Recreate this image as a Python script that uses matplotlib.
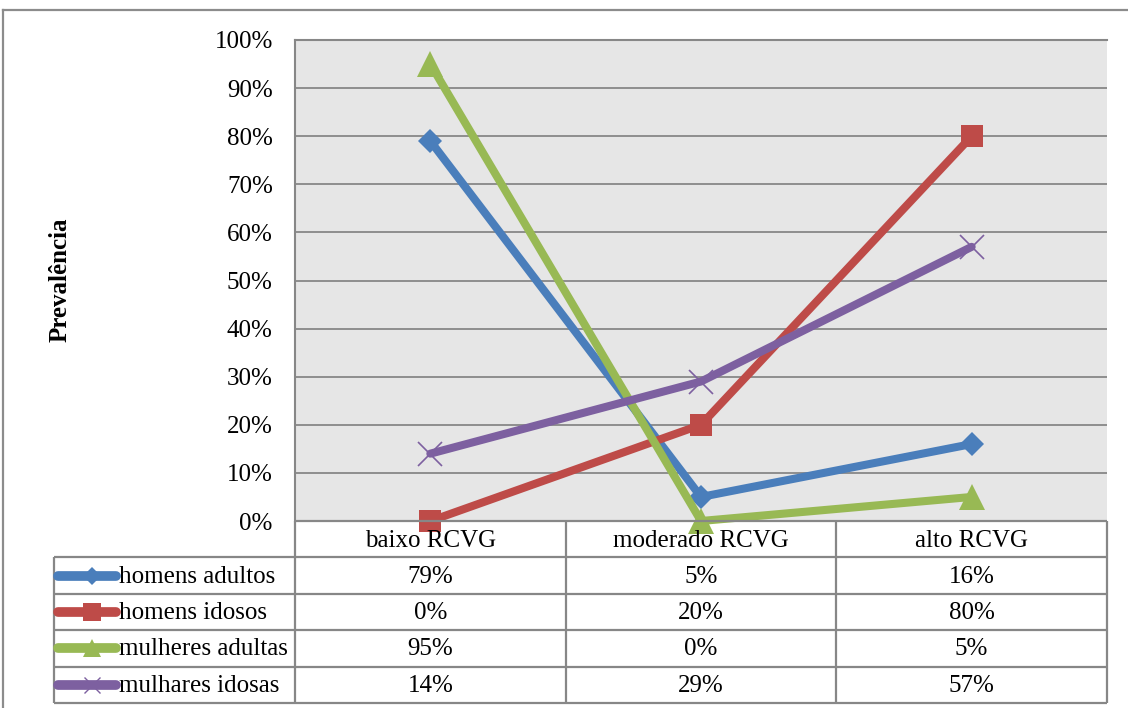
import matplotlib
matplotlib.use("Agg")
import matplotlib.pyplot as plt
from matplotlib.lines import Line2D

plt.rcParams['font.family'] = ['Liberation Serif', 'DejaVu Serif']

categories = ["baixo RCVG", "moderado RCVG", "alto RCVG"]
series_names = ["homens adultos", "homens idosos", "mulheres adultas", "mulhares idosas"]
homens_adultos = [79, 5, 16]
homens_idosos = [0, 20, 80]
mulheres_adultas = [95, 0, 5]
mulhares_idosas = [14, 29, 57]
yticks = [0, 10, 20, 30, 40, 50, 60, 70, 80, 90, 100]

values = [homens_adultos, homens_idosos, mulheres_adultas, mulhares_idosas]
colors = ["#4A7EBB", "#BE4B48", "#98B954", "#7D60A0"]
markers = ["D", "s", "^", "x"]
msizes = [12.5, 16, 18.5, 17]
mews = [0, 0, 0, 1.2]

W, H = 1128, 708
fig = plt.figure(figsize=(W / 100, H / 100), dpi=100)


def frac(x0, y0, x1, y1):
    return [x0 / W, 1 - y1 / H, (x1 - x0) / W, (y1 - y0) / H]


GRID = "#878787"
FS = 18
LW = 5.8

# plot area
px0, px1, py0, py1 = 295, 1107, 40, 521
ax = fig.add_axes(frac(px0, py0, px1, py1))
ax.set_facecolor("#E6E6E6")
ax.set_xlim(-0.5, 2.5)
ax.set_ylim(0, 100)
ax.set_yticks(yticks)
ax.set_yticklabels([f"{v}%" for v in yticks], fontsize=FS)
ax.set_xticks([])
ax.tick_params(axis="y", length=0, pad=16)
for s in ["right", "bottom"]:
    ax.spines[s].set_visible(False)
ax.spines["left"].set_color(GRID)
ax.spines["left"].set_linewidth(1.5)
ax.spines["top"].set_color(GRID)
ax.spines["top"].set_linewidth(1.5)
ax.yaxis.grid(True, color=GRID, linewidth=1.3)
ax.set_axisbelow(True)

xs = list(range(len(categories)))
for vals, c, m, ms, mew in zip(values, colors, markers, msizes, mews):
    ax.plot(xs, vals, color=c, linewidth=LW, solid_capstyle="round",
            marker=m, markersize=ms, markeredgewidth=mew,
            markerfacecolor=c, markeredgecolor=c, clip_on=False, zorder=3)

fig.text(60 / W, 1 - 280 / H, "Prevalência", rotation=90, fontsize=18,
         fontweight="bold", ha="center", va="center")

# data table below the plot
tx0, ty0, ty1 = 54, 521, 703
tab = fig.add_axes(frac(tx0, ty0, px1, ty1))
unit = (px1 - px0) / 3.0
left = -0.5 - (px0 - tx0) / unit
tab.set_xlim(left, 2.5)
tab.set_ylim(5, 0)
tab.axis("off")

row_edges = [0, 1, 2, 3, 4, 5]
lk = dict(color=GRID, linewidth=1.6, solid_capstyle="butt", clip_on=False)
# header row covers only the category columns
tab.plot([-0.5, 2.5], [0, 0], **lk)
for y in row_edges[1:]:
    tab.plot([left, 2.5], [y, y], **lk)
for x in [-0.5, 0.5, 1.5, 2.5]:
    tab.plot([x, x], [0, 5], **lk)
tab.plot([left, left], [1, 5], **lk)

for i, cat in enumerate(categories):
    tab.text(i, 0.55, cat, ha="center", va="center", fontsize=FS)

for r, (name, vals, c, m) in enumerate(zip(series_names, values, colors, markers)):
    yc = r + 1.5
    k0 = left + (58 - tx0) / unit
    k1 = left + (116 - tx0) / unit
    tab.plot([k0, k1], [yc, yc], color=c, linewidth=7, solid_capstyle="round",
             clip_on=False)
    ms = {"D": 9, "s": 13, "^": 13, "x": 11}[m]
    tab.plot([(k0 + k1) / 2 + 0.02], [yc], marker=m, color=c, markersize=ms,
             markeredgewidth=1.0 if m == "x" else 0, clip_on=False)
    tab.text(left + (119 - tx0) / unit, yc + 0.03, name, ha="left",
             va="center", fontsize=FS)
    for i, v in enumerate(vals):
        tab.text(i, yc + 0.03, f"{v}%", ha="center", va="center", fontsize=FS)

# outer chart frame
fig.add_artist(Line2D([3 / W, 1], [1 - 10 / H, 1 - 10 / H], color="#8C8C8C",
                      linewidth=1.6))
fig.add_artist(Line2D([3 / W, 3 / W], [0, 1 - 10 / H], color="#8C8C8C",
                      linewidth=1.6))

fig.savefig("out.png", dpi=100, facecolor="white")
